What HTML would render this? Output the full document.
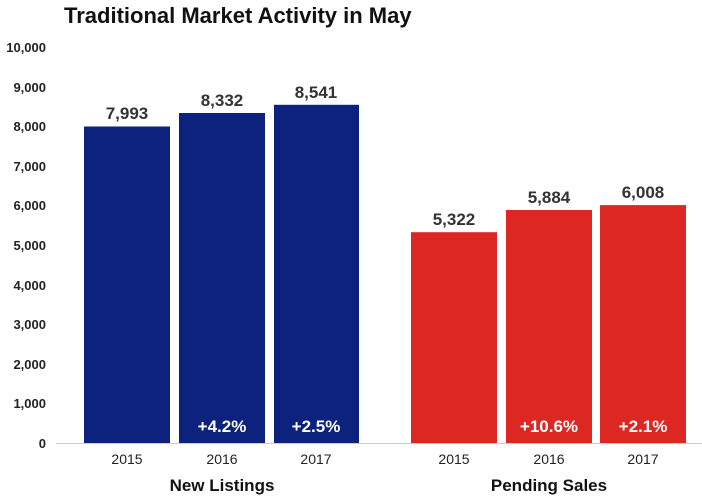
<!DOCTYPE html><html><head><style>body{margin:0;background:#fff}</style></head><body>
<svg width="702" height="497" xmlns="http://www.w3.org/2000/svg" font-family="Liberation Sans, Arial, sans-serif">
<text x="64" y="23" font-size="22" font-weight="bold" fill="#111">Traditional Market Activity in May</text>
<g font-size="13" font-weight="bold" fill="#222" text-anchor="end">
<text x="46" y="52">10,000</text><text x="46" y="92">9,000</text><text x="46" y="131">8,000</text><text x="46" y="171">7,000</text><text x="46" y="210">6,000</text><text x="46" y="250">5,000</text><text x="46" y="290">4,000</text><text x="46" y="329">3,000</text><text x="46" y="369">2,000</text><text x="46" y="408">1,000</text><text x="46" y="448">0</text>
</g>
<line x1="56" y1="443.5" x2="702" y2="443.5" stroke="#ccc"/>
<g fill="#0c227c">
<rect x="84" y="126.5" width="86" height="316.5"/><rect x="179" y="113" width="86" height="330"/><rect x="274" y="104.8" width="85" height="338.2"/>
</g>
<g fill="#dc2722">
<rect x="411" y="232.2" width="86" height="210.8"/><rect x="506" y="210" width="86" height="233"/><rect x="600" y="205.1" width="86" height="237.9"/>
</g>
<g font-size="17" font-weight="bold" fill="#333" text-anchor="middle">
<text x="127" y="119">7,993</text><text x="222" y="106">8,332</text><text x="316" y="98">8,541</text>
<text x="454" y="225">5,322</text><text x="549" y="203">5,884</text><text x="643" y="198">6,008</text>
</g>
<g font-size="17" font-weight="bold" fill="#fff" text-anchor="middle">
<text x="222" y="432">+4.2%</text><text x="316" y="432">+2.5%</text><text x="549" y="432">+10.6%</text><text x="643" y="432">+2.1%</text>
</g>
<g font-size="14" fill="#222" text-anchor="middle">
<text x="127" y="464">2015</text><text x="222" y="464">2016</text><text x="316" y="464">2017</text>
<text x="454" y="464">2015</text><text x="549" y="464">2016</text><text x="643" y="464">2017</text>
</g>
<g font-size="17" font-weight="bold" fill="#111" text-anchor="middle">
<text x="222" y="491">New Listings</text><text x="549" y="491">Pending Sales</text>
</g>
</svg></body></html>
